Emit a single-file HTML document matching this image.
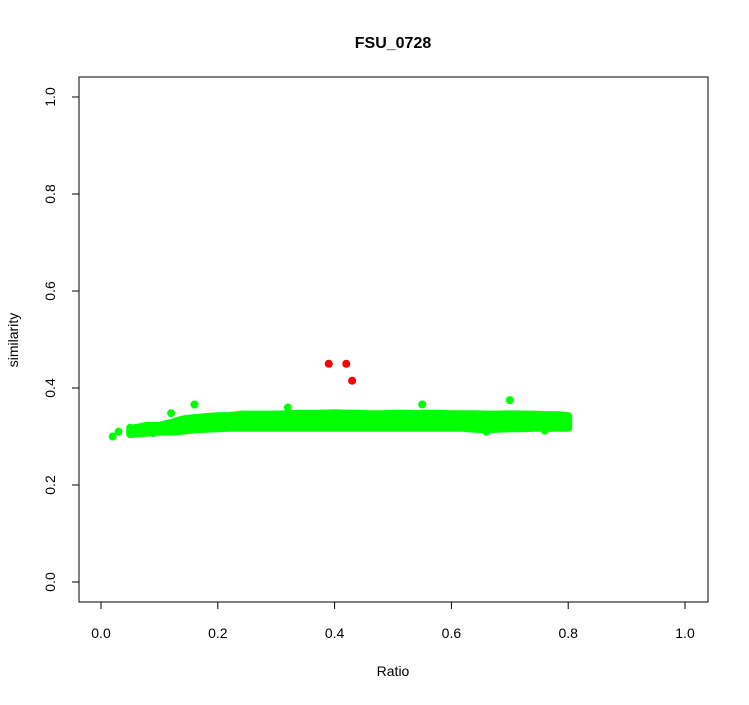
<!DOCTYPE html>
<html><head><meta charset="utf-8"><style>
body{margin:0;background:#fff}
text{font-family:"Liberation Sans",Arial,sans-serif;fill:#000}
</style></head><body>
<svg id="chart" width="749" height="700" xmlns="http://www.w3.org/2000/svg">
<rect width="749" height="700" fill="#fff"/>
<text x="393" y="48" font-size="16" font-weight="bold" text-anchor="middle">FSU_0728</text>
<rect x="79" y="77" width="629" height="525" fill="none" stroke="#000" stroke-width="1"/>
<text x="393" y="676" font-size="14" text-anchor="middle">Ratio</text>
<text transform="translate(18,340) rotate(-90)" font-size="14" text-anchor="middle">similarity</text>
<g id="axes"></g>
<g id="marks"></g>
</svg>
<script>
const xTicks=[0,0.2,0.4,0.6,0.8,1.0];
const xTickLabels=["0.0","0.2","0.4","0.6","0.8","1.0"];
const yTicks=[0,0.2,0.4,0.6,0.8,1.0];
const yTickLabels=["0.0","0.2","0.4","0.6","0.8","1.0"];
const bandX=[0.05,0.08,0.10,0.12,0.14,0.16,0.18,0.20,0.22,0.24,0.26,0.28,0.30,0.32,0.34,0.36,0.38,0.40,0.42,0.44,0.46,0.48,0.50,0.52,0.54,0.56,0.58,0.60,0.62,0.64,0.66,0.68,0.70,0.72,0.74,0.76,0.78,0.80];
const bandTop=[0.315,0.322,0.322,0.328,0.335,0.338,0.340,0.342,0.342,0.345,0.345,0.345,0.345,0.346,0.347,0.347,0.347,0.348,0.347,0.347,0.346,0.346,0.347,0.347,0.346,0.347,0.347,0.346,0.346,0.346,0.345,0.345,0.346,0.345,0.345,0.344,0.344,0.342];
const bandBot=[0.305,0.308,0.310,0.310,0.312,0.315,0.316,0.317,0.318,0.318,0.318,0.318,0.318,0.318,0.318,0.318,0.318,0.318,0.318,0.318,0.318,0.318,0.318,0.318,0.318,0.318,0.318,0.318,0.318,0.316,0.315,0.316,0.317,0.317,0.318,0.318,0.318,0.318];
const greenX=[0.02,0.03,0.05,0.07,0.09,0.12,0.16,0.32,0.55,0.70,0.66,0.76];
const greenY=[0.30,0.31,0.318,0.312,0.307,0.348,0.366,0.36,0.366,0.375,0.31,0.312];
const redX=[0.39,0.42,0.43];
const redY=[0.45,0.45,0.415];
const sx=v=>101+v*584, sy=v=>582-v*485;
const NS="http://www.w3.org/2000/svg";
const axes=document.getElementById('axes'), marks=document.getElementById('marks');
function mk(tag,attrs,parent){const e=document.createElementNS(NS,tag);for(const k in attrs)e.setAttribute(k,attrs[k]);parent.appendChild(e);return e;}
xTicks.forEach((t,i)=>{
  const l=mk('line',{x1:sx(t),x2:sx(t),y1:602,y2:609,stroke:'#000'},axes);
  
  
  const tx=mk('text',{x:sx(t),y:638,'font-size':14,'text-anchor':'middle'},axes);tx.textContent=xTickLabels[i];
  
  
});
yTicks.forEach((t,i)=>{
  const l=mk('line',{x1:72,x2:79,y1:sy(t),y2:sy(t),stroke:'#000'},axes);
  
  
  const tx=mk('text',{'font-size':14,'text-anchor':'middle',transform:`translate(55,${sy(t)}) rotate(-90)`},axes);tx.textContent=yTickLabels[i];
  
  
});
// dense band
let d='M'+bandX.map((x,i)=>sx(x)+','+sy(bandTop[i])).join(' L')+' L'+bandX.map((x,i)=>sx(x)+','+sy(bandBot[i])).reverse().join(' L')+' Z';
const band=mk('path',{d:d,fill:'#00ff00',stroke:'#00ff00','stroke-width':8,'stroke-linejoin':'round'},marks);


greenX.forEach((x,i)=>{
  const c=mk('circle',{cx:sx(x),cy:sy(greenY[i]),r:4,fill:'#00ff00'},marks);
  
  
});
redX.forEach((x,i)=>{
  const c=mk('circle',{cx:sx(x),cy:sy(redY[i]),r:4,fill:'#ff0000'},marks);
  
  
});
</script>
</body></html>
